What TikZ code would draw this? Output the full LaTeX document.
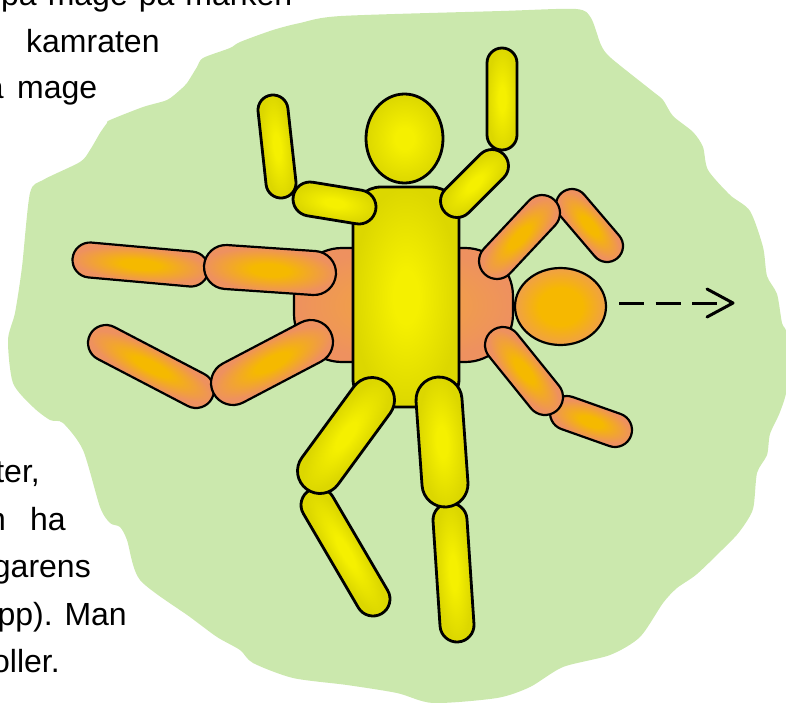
\documentclass[tikz,border=0pt]{standalone}
\usepackage{fontspec}
\setmainfont{Liberation Sans}

\definecolor{meadow}{HTML}{CBE8AD}
\definecolor{orcore}{HTML}{F5B900}
\definecolor{oredge}{HTML}{EE915F}
\definecolor{obcore}{HTML}{F2A83A}
\definecolor{yecore}{HTML}{F5F000}
\definecolor{yeedge}{HTML}{DCD700}
\definecolor{hdcore}{HTML}{F6B800}
\definecolor{hdedge}{HTML}{F0A048}

% elongated soft-centre shadings for the body parts
\pgfdeclareradialshading{orlimb}{\pgfpoint{0bp}{0bp}}{color(0bp)=(orcore); color(7bp)=(orcore); color(25bp)=(oredge); color(50bp)=(oredge)}
\pgfdeclareradialshading{orbody}{\pgfpoint{0bp}{0bp}}{color(0bp)=(obcore); color(25bp)=(oredge); color(50bp)=(oredge)}
\pgfdeclareradialshading{orhead}{\pgfpoint{0bp}{0bp}}{color(0bp)=(hdcore); color(12bp)=(hdcore); color(25bp)=(hdedge); color(50bp)=(hdedge)}
\pgfdeclareradialshading{yelimb}{\pgfpoint{0bp}{0bp}}{color(0bp)=(yecore); color(6bp)=(yecore); color(25bp)=(yeedge); color(50bp)=(yeedge)}

% capsule between two cap centres (x1,y1) and (x2,y2) with radius r
\newcommand\limb[6]{%
  \pgfmathsetmacro\lmx{(#2+#4)/2}%
  \pgfmathsetmacro\lmy{(#3+#5)/2}%
  \pgfmathsetmacro\lma{-atan2(#5-#3,#4-#2)}%
  \pgfmathsetmacro\lmh{veclen(#4-#2,#5-#3)/2+#6}%
  \path[#1, transform canvas={shift={(\lmx,\lmy)},rotate=\lma}, rounded corners=#6pt]
    (-\lmh,-#6) rectangle (\lmh,#6);%
}

\tikzset{
  orpart/.style={shading=orlimb, draw=black, line width=2.2pt},
  yepart/.style={shading=yelimb, draw=black, line width=2.8pt},
  prose/.style={inner sep=0pt, font=\fontsize{32}{38}\selectfont},
}

\begin{document}
\begin{tikzpicture}[x=1pt, y=-1pt, line join=round]
\useasboundingbox (0,0) rectangle (786,702);

% meadow
\fill[meadow] plot[smooth cycle, tension=0.45] coordinates {
  (110,120) (143,107) (167,100) (180,90) (187,83) (197,67) (203,58) (230,48)
  (240,42) (273,30) (300,23) (341,16) (501,11) (576,9) (591,18) (601,45)
  (611,58) (651,90) (663,100) (673,116) (693,132) (703,147) (708,170)
  (730,195) (750,211) (763,247) (767,276) (777,294) (782,323) (787,335)
  (787,387) (780,412) (770,434) (767,455) (757,473) (753,509) (740,531)
  (727,545) (697,574) (677,588) (663,603) (640,637) (610,655) (563,667)
  (530,687) (497,698) (433,703) (397,693) (347,685) (293,678) (253,663)
  (240,650) (217,637) (190,617) (140,580) (127,540) (120,527) (110,523)
  (100,507) (83,450) (63,423) (50,420) (33,407) (13,383) (8,340) (15,313)
  (22,267) (30,193) (43,180) (80,162) (90,150) (100,133) (107,123)};

% surrounding text
\node[prose, anchor=base west] (l1) at (1,5.5) {\makebox[291pt][s]{på mage på marken}};
\node[prose, anchor=base west] (l2) at (26,52) {kamraten};
\node[prose, anchor=base east] (l3a) at (4,98) {på};
\node[prose, anchor=base west] (l3b) at (17,98) {mage};
\node[prose, anchor=base east] (l4) at (40,482) {ter,};
\node[prose, anchor=base east] (l5a) at (6,530) {n};
\node[prose, anchor=base west] (l5b) at (30,530) {ha};
\node[prose, anchor=base east] (l6) at (91,577) {garens};
\node[prose, anchor=base east] (l7) at (127,625) {pp). Man};
\node[prose, anchor=base east] (l8) at (60,672) {oller.};

% lying figure: body
\path[shading=orbody, draw=black, line width=2.2pt, rounded corners=48pt]
  (294,248) rectangle (513,362);
% lying figure: limbs, outer segments first
\limb{orpart}{90}{260}{191}{269}{17.5}
\limb{orpart}{226}{267}{314}{273}{22}
\limb{orpart}{106}{343}{196}{390}{18}
\limb{orpart}{233}{383}{311}{342}{22}
\limb{orpart}{572}{205}{607}{246}{16}
\limb{orpart}{497}{261}{542}{213}{18}
\limb{orpart}{567}{413}{615}{430}{17}
\limb{orpart}{503}{345}{545}{397}{18}
% lying figure: head
\path[shading=orhead, draw=black, line width=2.2pt] (560.5,306.5) ellipse [x radius=45.5, y radius=38.5];

% direction of travel
\coordinate (go) at (619,303);
\coordinate (tip) at (733,303);
\coordinate (tipa) at (707,289);
\coordinate (tipb) at (707,317);
\draw[line width=3pt, dash pattern=on 25pt off 11.5pt] (go) -- ([xshift=-2pt]tip);
\draw[line width=3pt, line cap=round] (tipa) -- (tip) -- (tipb);

% standing figure: body
\path[shading=yelimb, draw=black, line width=2.8pt, rounded corners=28pt]
  (353,187) rectangle (459,407);
% arms
\limb{yepart}{273}{110}{281}{183}{15}
\limb{yepart}{310}{199}{359}{207}{17}
\limb{yepart}{457}{201}{492}{166}{16.5}
\limb{yepart}{502}{63}{502}{135}{15}
% legs
\limb{yepart}{318}{505}{373}{599}{17}
\limb{yepart}{450}{520}{457}{625}{17}
\limb{yepart}{372}{400}{320}{471}{22.5}
\limb{yepart}{439}{400}{445}{484}{23}
% head
\path[shading=yelimb, draw=black, line width=2.8pt] (404.5,138.5) ellipse [x radius=38.5, y radius=44.5];
\end{tikzpicture}
\end{document}
